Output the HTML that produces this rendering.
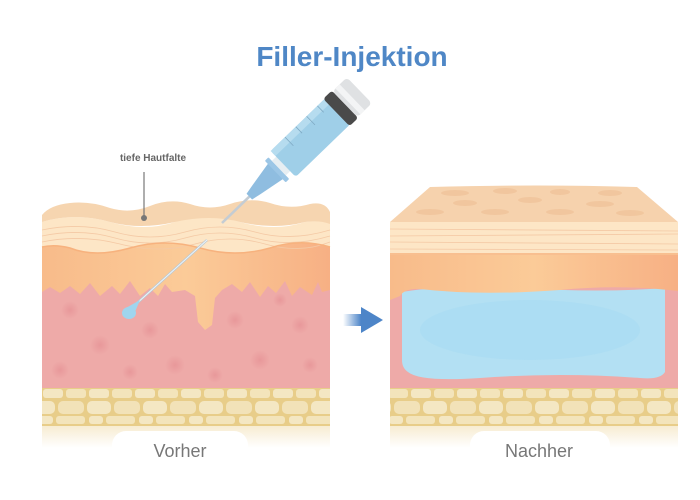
<!DOCTYPE html>
<html><head><meta charset="utf-8"><style>
html,body{margin:0;padding:0;background:#fff;}
svg{display:block;}
</style></head><body>
<svg width="700" height="500" viewBox="0 0 700 500" xmlns="http://www.w3.org/2000/svg">
<defs>
<pattern id="f1" x="42" y="388" width="46" height="12" patternUnits="userSpaceOnUse">
<rect x="1" y="1" width="20" height="9" rx="3" fill="#f4e7c3"/><rect x="24" y="1" width="20" height="9" rx="3" fill="#f3e4bb"/></pattern>
<pattern id="f2" x="30" y="400" width="56" height="15" patternUnits="userSpaceOnUse">
<rect x="1" y="1" width="24" height="13" rx="5" fill="#f4e7c3"/><rect x="28" y="1" width="26" height="13" rx="5" fill="#f2e2b8"/></pattern>
<pattern id="f3" x="38" y="415" width="50" height="11" patternUnits="userSpaceOnUse">
<rect x="1" y="1" width="14" height="8" rx="3" fill="#f4e7c3"/><rect x="18" y="1" width="29" height="8" rx="3" fill="#f3e4bb"/></pattern>
<linearGradient id="fade" x1="0" y1="0" x2="0" y2="1"><stop offset="0" stop-color="#f7ecd2"/><stop offset="1" stop-color="#fff"/></linearGradient>
<linearGradient id="arr" x1="0" y1="0" x2="1" y2="0"><stop offset="0" stop-color="#fff"/><stop offset="1" stop-color="#4d85c8"/></linearGradient>
<radialGradient id="sp"><stop offset="0" stop-color="#e48c91" stop-opacity=".6"/><stop offset="1" stop-color="#e48c91" stop-opacity="0"/></radialGradient>
<linearGradient id="org" x1="0" y1="0" x2="1" y2="0"><stop offset="0" stop-color="#f8bb8a"/><stop offset=".5" stop-color="#fbcb98"/><stop offset="1" stop-color="#f7b084"/></linearGradient>
</defs>

<text x="352" y="66" text-anchor="middle" font-family="Liberation Sans, sans-serif" font-weight="bold" font-size="28" fill="#4f87c6">Filler-Injektion</text>

<rect x="42" y="280" width="288" height="110" fill="#eeaaa8"/>
<g fill="url(#sp)">
<circle cx="70" cy="310" r="9"/><circle cx="100" cy="345" r="10"/><circle cx="150" cy="330" r="9"/><circle cx="175" cy="365" r="10"/><circle cx="235" cy="320" r="9"/><circle cx="260" cy="360" r="10"/><circle cx="300" cy="325" r="9"/><circle cx="310" cy="365" r="8"/><circle cx="60" cy="370" r="9"/><circle cx="130" cy="372" r="8"/><circle cx="215" cy="375" r="8"/><circle cx="280" cy="300" r="7"/>
</g>
<path d="M42,240 L330,240 L330,290 L322,292 L318,282 L312,295 L300,287 L292,296 L285,281 L276,293 L268,286 L260,297 L250,282 L242,292 L232,284 L222,290 L215,298 L212,325 L205,330 L198,322 L195,296 L185,290 L172,292 L165,284 L158,296 L150,288 L140,296 L130,281 L120,294 L112,286 L100,296 L90,283 L80,294 L70,286 L60,293 L50,287 L42,292 Z" fill="url(#org)"/>
<path d="M42,222 Q75,212 110,222 T175,222 T240,222 T305,222 Q320,220 330,222 L330,247 Q300,238 270,248 Q235,258 200,248 Q165,238 130,248 Q95,258 70,248 Q55,244 42,247 Z" fill="#fde6c6"/>
<g stroke="#f4c9a5" stroke-width="0.8" fill="none">
<path d="M42,230 Q80,222 115,232 T185,232 T255,232 T330,230"/>
<path d="M42,236 Q80,228 115,238 T185,238 T255,238 T330,236"/>
<path d="M42,242 Q80,234 120,244 T195,244 T265,244 T330,242"/>
</g>
<path d="M42,247 Q55,244 70,248 Q95,258 130,248 Q165,238 200,248 Q235,258 270,248 Q300,238 330,247" stroke="#f7b27e" stroke-width="1.5" fill="none"/>
<path d="M42,215 Q50,205 70,203 Q90,201 110,208 Q130,214 150,206 Q170,198 190,204 Q210,211 230,204 Q250,197 270,203 Q290,210 310,204 Q325,201 330,212 L330,224 Q320,220 305,222 Q275,230 240,222 Q210,214 175,222 Q140,230 110,222 Q75,212 42,222 Z" fill="#f6d5b0"/>
<rect x="42" y="388" width="288" height="38" fill="#e8cd89"/>
<rect x="42" y="388" width="288" height="12" fill="url(#f1)"/>
<rect x="42" y="400" width="288" height="15" fill="url(#f2)"/>
<rect x="42" y="415" width="288" height="11" fill="url(#f3)"/>
<rect x="42" y="426" width="288" height="22" fill="url(#fade)"/>
<rect x="112" y="431" width="136" height="40" rx="14" fill="#fff"/>
<text x="180" y="457" text-anchor="middle" font-family="Liberation Sans, sans-serif" font-size="18" fill="#777">Vorher</text>

<text x="153" y="161" text-anchor="middle" font-family="Liberation Sans, sans-serif" font-weight="bold" font-size="10" fill="#666">tiefe Hautfalte</text>
<line x1="144" y1="172" x2="144" y2="217" stroke="#777" stroke-width="1.2"/>
<circle cx="144" cy="218" r="3" fill="#777"/>

<line x1="207" y1="240" x2="135" y2="305" stroke="#b9c9d4" stroke-width="2.5"/>
<line x1="207" y1="240" x2="135" y2="305" stroke="#eef4f8" stroke-width="1"/>
<ellipse cx="129" cy="313" rx="7" ry="6" fill="#9fd5ee"/>
<path d="M124,309 L140,300 L135,312 Z" fill="#9fd5ee"/>

<g transform="translate(222,223) rotate(-44)">
<rect x="0" y="-1.3" width="42" height="2.6" fill="#c4ccd3"/>
<path d="M38,-4 L48,-6 L76,-11 L76,11 L48,6 L38,4 Z" fill="#8fbde0"/>
<rect x="74" y="-15" width="5" height="30" rx="1" fill="#9cc6e6"/>
<rect x="79" y="-10" width="7" height="20" fill="#e7eef2"/>
<rect x="85" y="-18" width="76" height="36" rx="3" fill="#9fcfe8"/>
<rect x="85" y="-18" width="76" height="7" fill="#b6dcef"/>
<g stroke="#7fa9c3" stroke-width="0.8"><line x1="105" y1="-18" x2="105" y2="-6"/><line x1="120" y1="-18" x2="120" y2="-9"/><line x1="135" y1="-18" x2="135" y2="-6"/><line x1="150" y1="-18" x2="150" y2="-9"/></g>
<rect x="159" y="-19" width="12" height="38" rx="3" fill="#4a4a4a"/>
<rect x="171" y="-18" width="20" height="36" rx="4" fill="#dfe1e3"/>
<rect x="175" y="-18" width="6" height="36" fill="#f3f4f5"/>
</g>

<rect x="343" y="314" width="18" height="12" fill="url(#arr)"/>
<path d="M361,307 L383,320 L361,333 Z" fill="#4d85c8"/>

<rect x="390" y="285" width="288" height="105" fill="#eeaaa8"/>
<path d="M402,292 Q450,284 520,288 Q600,293 665,288 L665,372 Q660,380 640,378 Q560,372 480,378 Q420,382 408,372 Q402,368 402,360 Z" fill="#b3e0f3"/>
<ellipse cx="530" cy="330" rx="110" ry="30" fill="#aadcf2" opacity=".7"/>
<path d="M390,253 L678,253 L678,291 Q620,284 560,290 Q480,296 420,289 Q405,288 400,296 L390,300 Z" fill="url(#org)"/>
<rect x="390" y="222" width="288" height="33" fill="#fde6c6"/>
<g stroke="#f4c9a5" stroke-width="0.8"><line x1="390" y1="229" x2="678" y2="231"/><line x1="390" y1="236" x2="678" y2="234"/><line x1="390" y1="242" x2="678" y2="244"/><line x1="390" y1="249" x2="678" y2="250"/></g>
<line x1="390" y1="254" x2="678" y2="254" stroke="#f7b27e" stroke-width="1.5"/>
<path d="M430,187 Q540,184 637,187 L678,222 L390,222 Z" fill="#f6d2ad"/>
<g fill="#eebf95" opacity=".6">
<ellipse cx="455" cy="193" rx="14" ry="3"/><ellipse cx="505" cy="191" rx="12" ry="3"/><ellipse cx="560" cy="192" rx="10" ry="3"/><ellipse cx="610" cy="193" rx="12" ry="3"/><ellipse cx="465" cy="203" rx="12" ry="3"/><ellipse cx="530" cy="200" rx="12" ry="3"/><ellipse cx="600" cy="204" rx="14" ry="3"/><ellipse cx="430" cy="212" rx="14" ry="3"/><ellipse cx="495" cy="212" rx="14" ry="3"/><ellipse cx="560" cy="212" rx="14" ry="3"/><ellipse cx="630" cy="213" rx="14" ry="3"/>
</g>
<rect x="390" y="388" width="288" height="38" fill="#e8cd89"/>
<rect x="390" y="388" width="288" height="12" fill="url(#f1)"/>
<rect x="390" y="400" width="288" height="15" fill="url(#f2)"/>
<rect x="390" y="415" width="288" height="11" fill="url(#f3)"/>
<rect x="390" y="426" width="288" height="22" fill="url(#fade)"/>
<rect x="470" y="431" width="140" height="40" rx="14" fill="#fff"/>
<text x="539" y="457" text-anchor="middle" font-family="Liberation Sans, sans-serif" font-size="18" fill="#777">Nachher</text>
</svg>
</body></html>
